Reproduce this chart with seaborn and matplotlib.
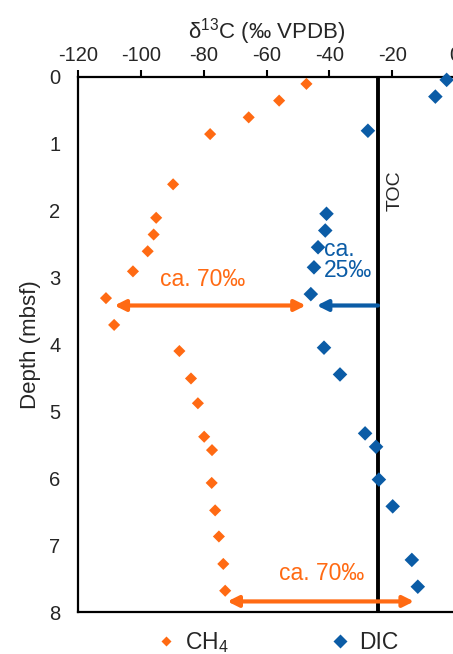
import pandas as pd
import matplotlib.pyplot as plt
import seaborn as sns

# CH4 carbon isotopes vs depth
ch4_depth = [0.11, 0.36, 0.61, 0.86, 1.61, 2.11, 2.36, 2.61, 2.91, 3.31, 3.71,
             4.10, 4.51, 4.88, 5.38, 5.58, 6.07, 6.48, 6.87, 7.28, 7.68]
ch4_d13c = [-47.3, -56.0, -65.7, -78.0, -89.8, -95.2, -96.0, -97.9, -102.6, -111.2, -108.6,
            -87.8, -84.1, -81.9, -79.9, -77.4, -77.5, -76.4, -75.2, -73.8, -73.2]

# DIC carbon isotopes vs depth
dic_depth = [0.05, 0.30, 0.81, 2.05, 2.30, 2.55, 2.85, 3.25, 4.05, 4.45,
             5.33, 5.53, 6.02, 6.42, 7.22, 7.62]
dic_d13c = [-2.6, -6.2, -27.7, -40.9, -41.3, -43.6, -44.9, -45.9, -41.7, -36.6,
            -28.6, -25.1, -24.2, -19.8, -13.7, -11.8]

toc_value = -24.5
x_ticks = [-120, -100, -80, -60, -40, -20, 0]
y_ticks = [0, 1, 2, 3, 4, 5, 6, 7, 8]

ORANGE = '#FF6A13'
BLUE = '#0B5CA6'

df = pd.concat([
    pd.DataFrame({'d13C': ch4_d13c, 'Depth': ch4_depth, 'Species': 'CH$_4$'}),
    pd.DataFrame({'d13C': dic_d13c, 'Depth': dic_depth, 'Species': 'DIC'}),
], ignore_index=True)

sns.set_theme(style="white")
plt.rcParams['font.family'] = ['Liberation Sans', 'DejaVu Sans']
plt.rcParams['axes.unicode_minus'] = False
plt.rcParams['mathtext.fontset'] = 'custom'
plt.rcParams['mathtext.rm'] = 'Liberation Sans'
plt.rcParams['mathtext.it'] = 'Liberation Sans'

fig = plt.figure(figsize=(4.53, 6.54), dpi=100)
ax = fig.add_axes([0.173, 0.064, 0.831, 0.819])

sns.scatterplot(data=df, x='d13C', y='Depth', hue='Species', style='Species',
                palette={'CH$_4$': ORANGE, 'DIC': BLUE},
                markers={'CH$_4$': 'D', 'DIC': 'D'}, size='Species',
                sizes={'CH$_4$': 38, 'DIC': 55},
                edgecolor='none', ax=ax, clip_on=False, zorder=3)

ax.axvline(toc_value, color='black', lw=2.8, zorder=2)
ax.text(toc_value + 5.5, 1.7, 'TOC', rotation=90, ha='center', va='center', fontsize=14)

# offset arrows
arrow_kw = dict(arrowstyle='<|-|>', color=ORANGE, lw=3, mutation_scale=16, shrinkA=0, shrinkB=0)
ax.annotate('', xy=(-108.5, 3.42), xytext=(-47.5, 3.42), arrowprops=arrow_kw)
ax.text(-80.5, 3.2, 'ca. 70‰', color=ORANGE, ha='center', va='bottom', fontsize=16.5)
ax.annotate('', xy=(-44, 3.42), xytext=(toc_value, 3.42),
            arrowprops=dict(arrowstyle='-|>', color=BLUE, lw=3, mutation_scale=16,
                            shrinkA=0, shrinkB=0))
ax.text(-41.7, 3.07, 'ca.\n25‰', color=BLUE, ha='left', va='bottom', fontsize=16.5,
        linespacing=0.9)
ax.annotate('', xy=(-72.5, 7.84), xytext=(-13.0, 7.84), arrowprops=arrow_kw)
ax.text(-42.5, 7.6, 'ca. 70‰', color=ORANGE, ha='center', va='bottom', fontsize=16.5)

ax.set_xlim(-120, 0)
ax.set_ylim(8, 0)
ax.set_xticks(x_ticks)
ax.set_yticks(y_ticks)
ax.xaxis.tick_top()
ax.xaxis.set_label_position('top')
ax.set_xlabel('δ$^{13}$C (‰ VPDB)', fontsize=16, labelpad=6)
ax.set_ylabel('Depth (mbsf)', fontsize=16, labelpad=6)
ax.tick_params(axis='both', direction='out', length=5, width=1.5, color='black',
               labelsize=14.5, pad=3)
ax.tick_params(axis='y', pad=12)
for label in ax.get_yticklabels():
    label.set_horizontalalignment('center')
for side in ['left', 'top', 'bottom']:
    ax.spines[side].set_color('black')
    ax.spines[side].set_linewidth(1.6)
ax.spines['right'].set_visible(False)

handles, labels = ax.get_legend_handles_labels()
ax.legend(handles, labels, loc='upper center', bbox_to_anchor=(0.525, -0.003), ncol=2,
          frameon=False, fontsize=16.5, columnspacing=4.3, handletextpad=0.3,
          markerscale=0.9, handlelength=1.1, borderpad=0.2)

plt.savefig('out.png', dpi=100)
